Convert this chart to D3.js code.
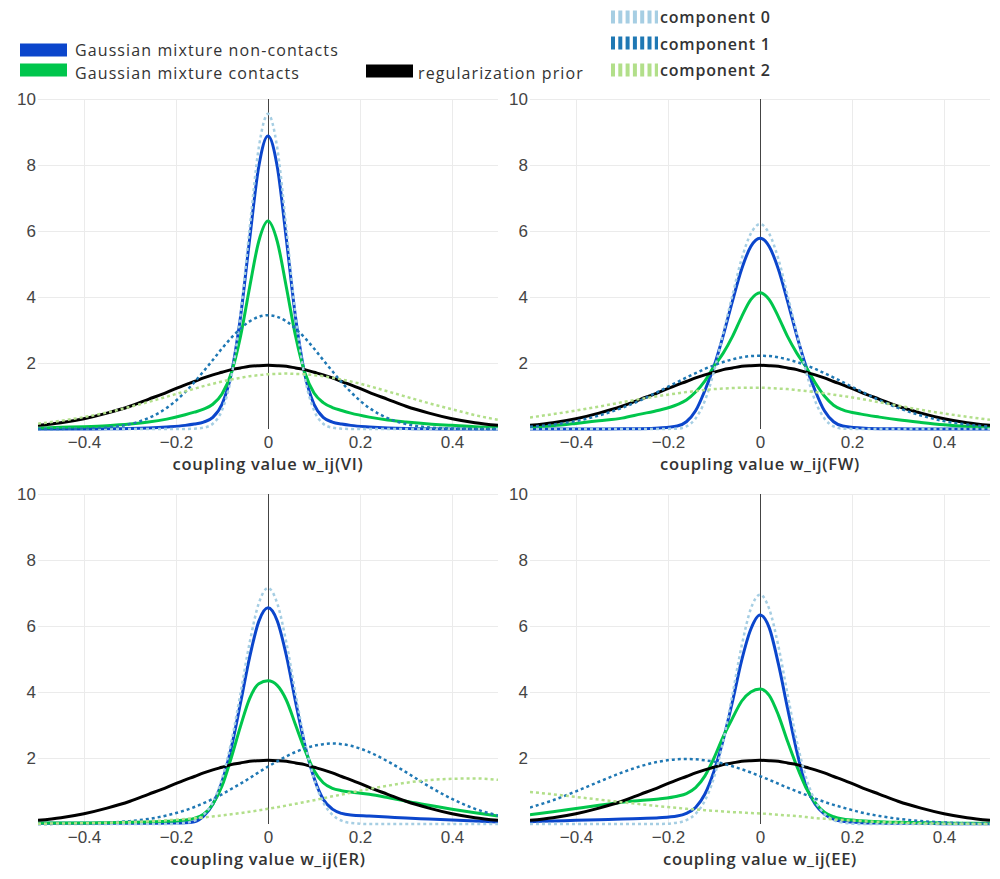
<!DOCTYPE html>
<html>
<head>
<meta charset="utf-8">
<script src="https://cdn.jsdelivr.net/npm/d3@7"></script>
<style>
  html, body { margin: 0; padding: 0; background: #fff; }
  svg { display: block; }
</style>
</head>
<body>
<svg id="chart" width="1000" height="879"></svg>
<script>
// ---------------- DATA ----------------
const xs = [-0.5,-0.45,-0.4,-0.35,-0.3,-0.26,-0.22,-0.18,-0.16,-0.14,-0.12,-0.1,-0.08,-0.06,-0.04,-0.02,0,0.02,0.04,0.06,0.08,0.1,0.12,0.14,0.16,0.18,0.22,0.26,0.3,0.35,0.4,0.45,0.5];

const xTicks = [-0.4, -0.2, 0, 0.2, 0.4];
const yTicks = [2, 4, 6, 8, 10];
const panelTitles = ["coupling value w_ij(VI)", "coupling value w_ij(FW)", "coupling value w_ij(ER)", "coupling value w_ij(EE)"];
const seriesNames = ["Gaussian mixture non-contacts", "Gaussian mixture contacts", "regularization prior", "component 0", "component 1", "component 2"];

// regularization prior (same in every panel)
const prior = [0.11,0.19,0.31,0.48,0.69,0.90,1.11,1.34,1.44,1.55,1.64,1.72,1.80,1.85,1.90,1.92,1.93,1.92,1.90,1.85,1.80,1.72,1.64,1.55,1.44,1.34,1.11,0.90,0.69,0.48,0.31,0.19,0.11];

// VI
const nonContactVI = [0,0,0.001,0.005,0.015,0.033,0.064,0.11,0.15,0.21,0.35,0.75,1.66,3.37,5.74,7.96,8.88,7.96,5.74,3.37,1.66,0.75,0.35,0.21,0.15,0.11,0.064,0.033,0.015,0.005,0.001,0,0];
const contactVI = [0.03,0.05,0.07,0.10,0.15,0.21,0.30,0.43,0.51,0.60,0.75,1.06,1.68,2.79,4.29,5.69,6.30,5.69,4.29,2.81,1.71,1.09,0.80,0.65,0.56,0.48,0.36,0.27,0.21,0.15,0.11,0.07,0.05];
const comp0VI = [0,0,0,0,0,0,0,0,0.01,0.04,0.16,0.57,1.56,3.44,6.07,8.53,9.55,8.53,6.07,3.44,1.56,0.57,0.16,0.04,0.01,0,0,0,0,0,0,0,0];
const comp1VI = [0,0.003,0.013,0.049,0.15,0.33,0.64,1.12,1.42,1.75,2.09,2.44,2.76,3.04,3.26,3.40,3.45,3.40,3.26,3.04,2.76,2.44,2.09,1.75,1.42,1.12,0.64,0.33,0.15,0.049,0.013,0.003,0];
const comp2VI = [0.16,0.25,0.36,0.50,0.67,0.82,0.98,1.14,1.22,1.30,1.37,1.44,1.50,1.55,1.60,1.63,1.66,1.67,1.68,1.67,1.66,1.63,1.60,1.55,1.50,1.44,1.30,1.14,0.98,0.78,0.60,0.42,0.28];

// FW
const nonContactFW = [0,0,0,0,0.005,0.01,0.03,0.09,0.22,0.55,1.16,1.9,2.83,3.87,4.84,5.53,5.78,5.53,4.84,3.87,2.83,1.9,1.16,0.55,0.22,0.09,0.03,0.01,0.005,0,0,0,0];
const contactFW = [0.06,0.10,0.17,0.25,0.33,0.45,0.57,0.74,0.88,1.12,1.45,1.9,2.3,2.8,3.4,3.92,4.13,3.92,3.4,2.8,2.3,1.88,1.4,1.0,0.72,0.58,0.45,0.36,0.28,0.2,0.13,0.08,0.05];
const comp0FW = [0,0,0,0,0,0,0,0.01,0.08,0.32,0.85,1.75,2.9,4.05,5.15,5.92,6.21,5.92,5.15,4.05,2.9,1.75,0.85,0.32,0.08,0.01,0,0,0,0,0,0,0];
const comp1FW = [0.07,0.135,0.24,0.41,0.64,0.87,1.14,1.42,1.56,1.69,1.82,1.93,2.03,2.11,2.17,2.21,2.22,2.21,2.17,2.11,2.03,1.93,1.82,1.69,1.56,1.42,1.14,0.87,0.64,0.41,0.24,0.135,0.07];
const comp2FW = [0.35,0.45,0.56,0.68,0.81,0.91,1.00,1.08,1.12,1.15,1.18,1.21,1.225,1.24,1.25,1.25,1.25,1.24,1.225,1.21,1.18,1.15,1.12,1.08,1.04,1.00,0.91,0.81,0.71,0.58,0.47,0.37,0.28];

// ER
const nonContactER = [0.02,0.02,0.02,0.02,0.02,0.02,0.03,0.04,0.07,0.24,0.6,1.28,2.3,3.65,5.05,6.14,6.55,6.16,5.1,3.7,2.4,1.4,0.75,0.45,0.32,0.27,0.24,0.21,0.18,0.15,0.12,0.09,0.06];
const contactER = [0.03,0.03,0.03,0.04,0.05,0.06,0.08,0.12,0.17,0.3,0.6,1.15,2.0,2.95,3.8,4.25,4.34,4.2,3.75,3.0,2.25,1.62,1.25,1.08,1.01,0.97,0.9,0.8,0.69,0.57,0.45,0.34,0.24];
const comp0ER = [0,0,0,0,0,0,0,0.03,0.10,0.28,0.66,1.37,2.48,3.94,5.49,6.69,7.15,6.69,5.49,3.94,2.48,1.37,0.66,0.28,0.10,0.03,0,0,0,0,0,0,0];
const comp1ER = [0.002,0.006,0.016,0.038,0.086,0.153,0.26,0.415,0.515,0.63,0.76,0.90,1.06,1.22,1.39,1.57,1.74,1.90,2.05,2.18,2.29,2.37,2.42,2.44,2.42,2.37,2.18,1.90,1.57,1.14,0.76,0.46,0.26];
const comp2ER = [0.01,0.014,0.023,0.037,0.058,0.081,0.112,0.151,0.174,0.2,0.229,0.26,0.294,0.331,0.371,0.414,0.46,0.508,0.559,0.611,0.666,0.72,0.78,0.84,0.89,0.95,1.06,1.16,1.25,1.33,1.37,1.38,1.34];

// EE
const nonContactEE = [0.07,0.09,0.11,0.13,0.15,0.17,0.19,0.24,0.32,0.5,0.9,1.6,2.55,3.7,4.95,5.9,6.33,5.95,4.85,3.5,2.2,1.15,0.6,0.3,0.15,0.08,0.04,0.03,0.02,0.02,0.01,0.01,0.01];
const contactEE = [0.28,0.37,0.47,0.57,0.66,0.71,0.76,0.84,0.92,1.1,1.45,2.0,2.65,3.2,3.72,4.0,4.09,3.9,3.3,2.5,1.75,1.1,0.65,0.36,0.22,0.15,0.1,0.07,0.05,0.04,0.03,0.02,0.02];
const comp0EE = [0,0,0,0,0,0,0,0.04,0.12,0.31,0.70,1.41,2.51,3.92,5.39,6.52,6.95,6.52,5.39,3.92,2.51,1.41,0.70,0.31,0.12,0.04,0,0,0,0,0,0,0];
const comp1EE = [0.50,0.72,0.99,1.28,1.56,1.75,1.89,1.96,1.97,1.96,1.93,1.89,1.83,1.75,1.66,1.56,1.45,1.34,1.22,1.10,0.99,0.88,0.77,0.67,0.58,0.50,0.35,0.24,0.16,0.089,0.047,0.023,0.011];
const comp2EE = [0.97,0.9,0.82,0.74,0.66,0.6,0.54,0.49,0.46,0.44,0.42,0.40,0.38,0.36,0.35,0.33,0.32,0.30,0.28,0.26,0.24,0.21,0.18,0.16,0.14,0.12,0.09,0.06,0.04,0.02,0.01,0.005,0];

// ---------------- STYLE / LAYOUT ----------------
const styles = [
  { color: "#0b46cc", width: 3, dash: null },     // non-contacts
  { color: "#00c64c", width: 3, dash: null },     // contacts
  { color: "#000000", width: 3, dash: null },     // prior
  { color: "#a6cee3", width: 2.5, dash: "3,3" },  // comp 0
  { color: "#1f78b4", width: 2.5, dash: "3,3" },  // comp 1
  { color: "#b2df8a", width: 2.5, dash: "3,3" }   // comp 2
];

const panels = [
  { x0: 38,  x1: 498, y0: 99,  y1: 429, title: panelTitles[0], series: [nonContactVI, contactVI, prior, comp0VI, comp1VI, comp2VI] },
  { x0: 530, x1: 990, y0: 99,  y1: 429, title: panelTitles[1], series: [nonContactFW, contactFW, prior, comp0FW, comp1FW, comp2FW] },
  { x0: 38,  x1: 498, y0: 494, y1: 824, title: panelTitles[2], series: [nonContactER, contactER, prior, comp0ER, comp1ER, comp2ER] },
  { x0: 530, x1: 990, y0: 494, y1: 824, title: panelTitles[3], series: [nonContactEE, contactEE, prior, comp0EE, comp1EE, comp2EE] }
];

const svg = d3.select("#chart");
const tickFont = "'Liberation Sans', Arial, sans-serif";
const textFont = "'Open Sans', 'Noto Sans', sans-serif";
const crisp = v => Math.round(v) + 0.5;

panels.forEach((p, i) => {
  const x = d3.scaleLinear().domain([-0.5, 0.5]).range([p.x0, p.x1]);
  const y = d3.scaleLinear().domain([0, 10]).range([p.y1, p.y0]);
  const g = svg.append("g");

  svg.append("clipPath").attr("id", "clip" + i)
    .append("rect").attr("x", p.x0).attr("y", p.y0 - 2).attr("width", p.x1 - p.x0).attr("height", p.y1 - p.y0 + 4);

  // grid
  const grid = g.append("g");
  grid.selectAll("line.yg").data(yTicks).join("line")
    .attr("x1", p.x0).attr("x2", p.x1)
    .attr("y1", d => crisp(y(d))).attr("y2", d => crisp(y(d)))
    .attr("stroke", "#ebebeb").attr("stroke-width", 1);
  grid.selectAll("line.xg").data(xTicks.filter(t => t !== 0)).join("line")
    .attr("x1", d => crisp(x(d))).attr("x2", d => crisp(x(d)))
    .attr("y1", p.y0).attr("y2", p.y1)
    .attr("stroke", "#ebebeb").attr("stroke-width", 1);
  // zero line
  g.append("line").attr("x1", crisp(x(0))).attr("x2", crisp(x(0))).attr("y1", p.y0).attr("y2", p.y1)
    .attr("stroke", "#444").attr("stroke-width", 1);

  // axes via d3
  const xAxis = d3.axisBottom(x).tickValues(xTicks).tickSize(0).tickPadding(0)
    .tickFormat(d => d === 0 ? "0" : d3.format(".1f")(d).replace("-", "\u2212"));
  const xg = g.append("g").attr("transform", `translate(0,${p.y1})`).call(xAxis);
  xg.select(".domain").remove();
  xg.selectAll("text").attr("font-family", tickFont).attr("font-size", 17).attr("fill", "#444")
    .attr("dy", null).attr("y", 19);

  const yAxis = d3.axisLeft(y).tickValues(yTicks).tickSize(0).tickPadding(0);
  const yg = g.append("g").attr("transform", `translate(${p.x0 - 2},0)`).call(yAxis);
  yg.select(".domain").remove();
  yg.selectAll("text").attr("font-family", tickFont).attr("font-size", 17).attr("fill", "#444")
    .attr("dy", "0.35em");

  // title
  g.append("text").attr("x", (p.x0 + p.x1) / 2).attr("y", p.y1 + 41)
    .attr("text-anchor", "middle").attr("font-family", textFont).attr("font-weight", 600)
    .attr("font-size", 16.5).attr("letter-spacing", "0.7px").attr("fill", "#333").text(p.title);

  // lines
  const line = d3.line().x((d, k) => x(xs[k])).y(d => y(d)).curve(d3.curveMonotoneX);
  const lg = g.append("g").attr("clip-path", `url(#clip${i})`);
  p.series.forEach((s, k) => {
    const st = styles[k];
    lg.append("path").datum(s).attr("d", line)
      .attr("fill", "none").attr("stroke", st.color).attr("stroke-width", st.width)
      .attr("stroke-dasharray", st.dash).attr("stroke-linejoin", "round");
  });
});

// ---------------- LEGEND ----------------
const legendItems = [
  { sx: 20,  sy: 50, tx: 75,  ty: 56 },
  { sx: 20,  sy: 70, tx: 75,  ty: 78.5 },
  { sx: 366, sy: 71, tx: 418, ty: 78.5 },
  { sx: 611, sy: 17, tx: 660, ty: 23 },
  { sx: 611, sy: 43, tx: 660, ty: 49.5 },
  { sx: 611, sy: 70, tx: 660, ty: 76 }
];
const lgd = svg.append("g");
legendItems.forEach((it, k) => {
  const st = styles[k];
  lgd.append("line").attr("x1", it.sx).attr("x2", it.sx + 47).attr("y1", it.sy).attr("y2", it.sy)
    .attr("stroke", st.color).attr("stroke-width", 13)
    .attr("stroke-dasharray", st.dash ? "4,3.3" : null);
  lgd.append("text").attr("x", it.tx).attr("y", it.ty)
    .attr("font-family", textFont).attr("font-size", 16)
    .attr("letter-spacing", k >= 3 ? "0.8px" : "1.1px")
    .attr("font-weight", k >= 3 ? 600 : "normal")
    .attr("fill", "#333").text(seriesNames[k]);
});
</script>
</body>
</html>
